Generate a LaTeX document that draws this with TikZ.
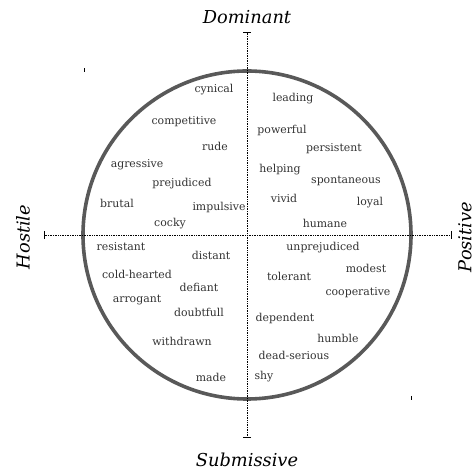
\documentclass[tikz,border=0pt]{standalone}
\usepackage{fontspec}
\setmainfont{DejaVu Serif}
\usetikzlibrary{arrows.meta}
\tikzset{
  word/.style={text=black!80,font=\fontsize{10.9}{12}\selectfont,inner sep=0pt},
  pole/.style={font=\fontsize{17.8}{20}\itshape,inner sep=0pt},
  axis/.style={densely dotted,line width=.7pt,{Bar[width=8pt]}-{Bar[width=8pt]}}
}
\begin{document}
\begin{tikzpicture}[x=1pt,y=1pt]
  \useasboundingbox (-247,-235) rectangle (229,235);
  \coordinate (O) at (0,0);
  \coordinate (top) at (0,203);
  \coordinate (bottom) at (0,-203);
  \coordinate (left) at (-203,0);
  \coordinate (right) at (205,0);
  % circle and axes
  \draw[line width=3.6pt,black!65] (O) circle (164);
  \draw[axis] (top)--(bottom);
  \draw[axis] (left)--(right);
  \draw[line width=.6pt] (-163,163)--++(0,4);
  \draw[line width=.6pt] (164,-161)--++(0,-4);
  % poles
  \node[pole] (dominant) at (0,218) {Dominant};
  \node[pole] (submissive) at (0,-225) {Submissive};
  \node[pole,rotate=90] (hostile) at (-224,-2) {Hostile};
  \node[pole,rotate=90] (positive) at (218,-2) {Positive};
  % words (pixel position of centre)
  \foreach \px/\py/\w in {%
    214/90/cynical, 184/122/competitive, 215/146/rude, 137/165/agressive,
    182/184/prejudiced, 117/203/brutal, 219/207/impulsive, 170/224/cocky,
    293/99/leading, 282/130/powerful, 334/149/persistent, 280/170/helping,
    346/181/spontaneous, 284/198/vivid, 370/203/loyal, 325/223/humane,
    121/247/resistant, 211/255/distant, 137/274/cold-hearted, 199/287/defiant,
    137/300/arrogant, 199/312/doubtfull, 182/341/withdrawn, 211/377/made,
    323/248/unprejudiced, 366/268/modest, 289/276/tolerant, 358/293/cooperative,
    285/318/dependent, 338/338/humble, 294/355/dead-serious, 264/377/shy}{%
      \node[word] (\w) at (\px-247,235-\py) {\w};
    }
\end{tikzpicture}
\end{document}
